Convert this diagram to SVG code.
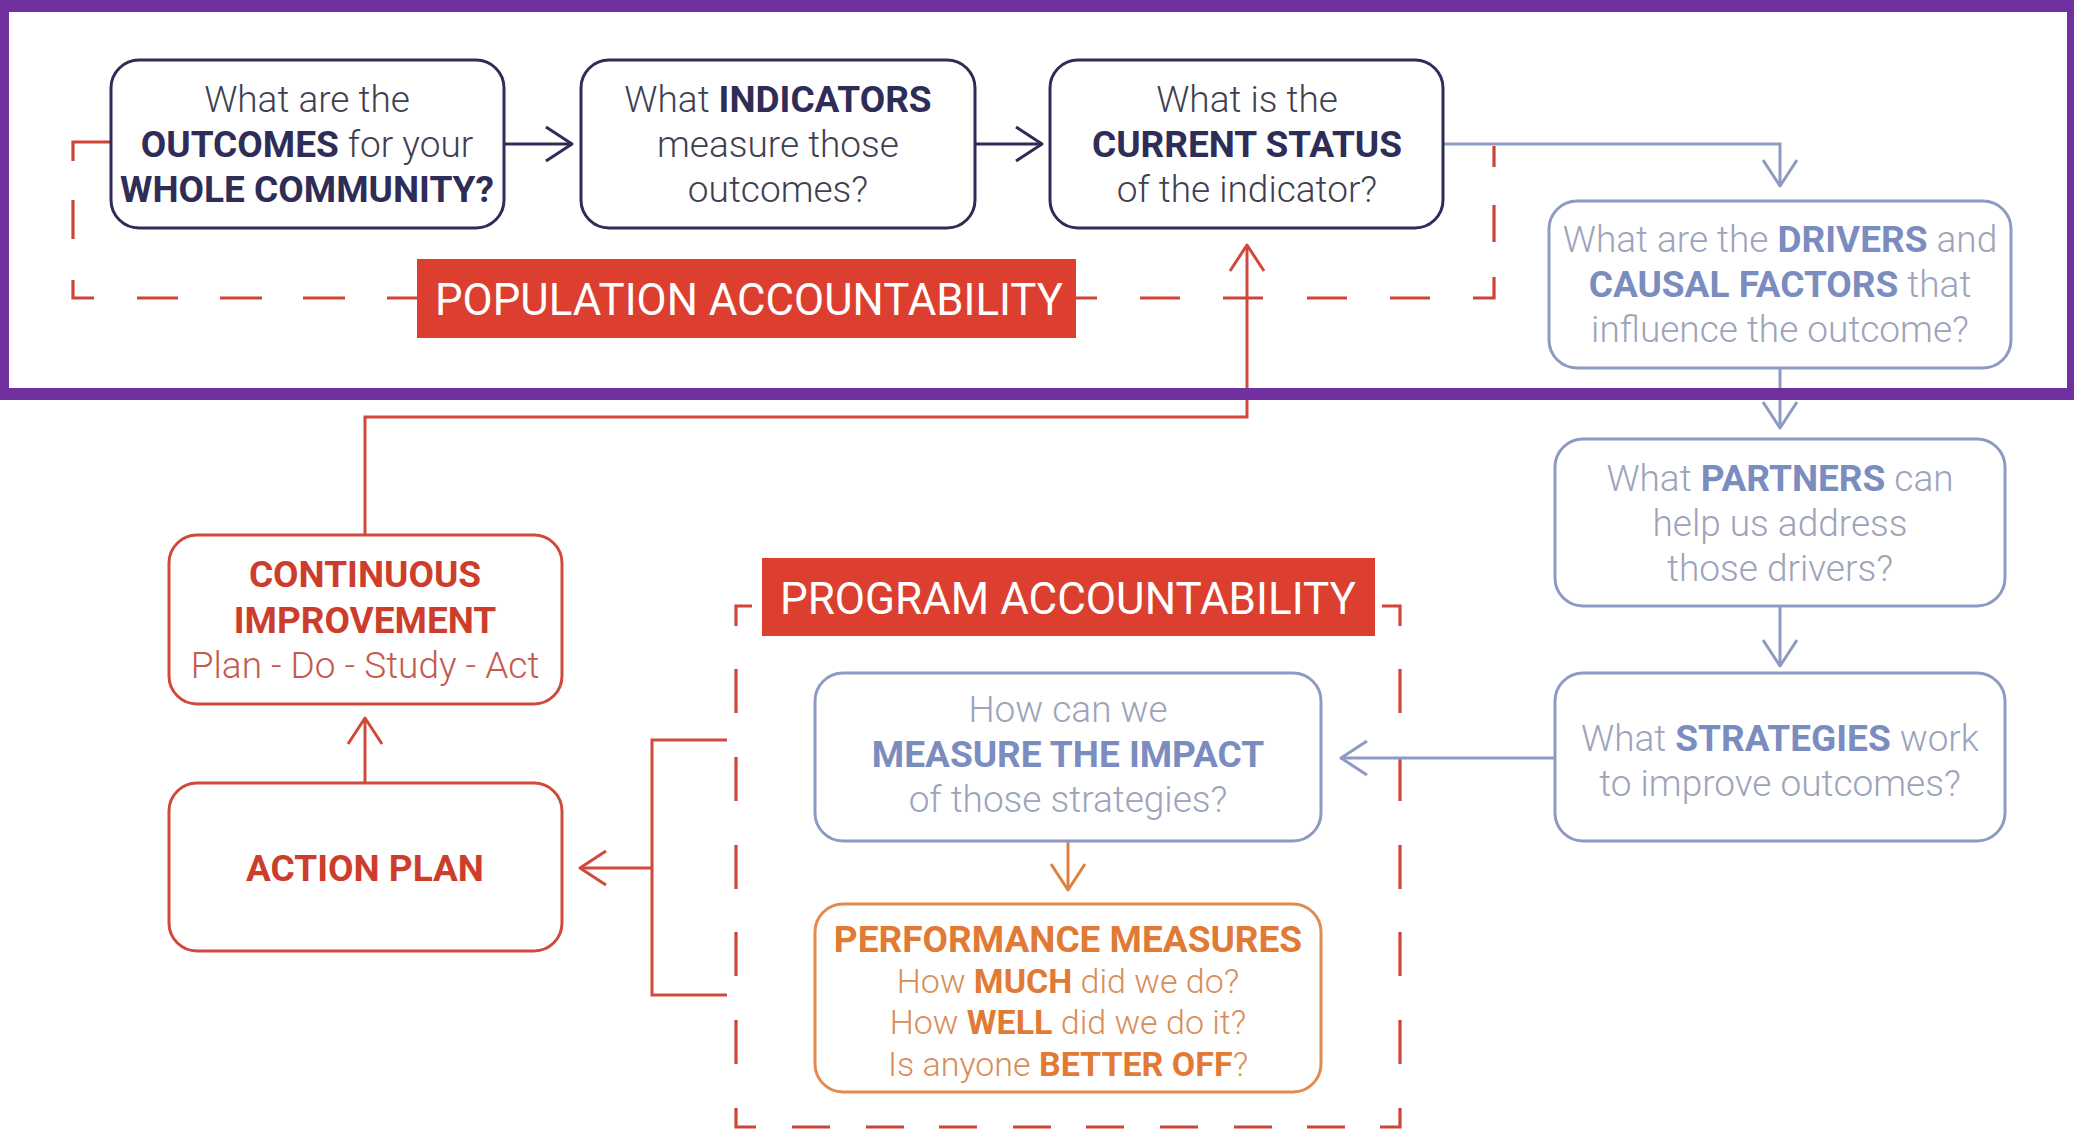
<svg xmlns="http://www.w3.org/2000/svg" width="2074" height="1139" viewBox="0 0 2074 1139">
<style>
.box{fill:#fff;stroke-width:3}
.t{font-family:Roboto,"Liberation Sans",sans-serif;font-size:37px;font-weight:300;text-anchor:middle}
.b{font-weight:700}
.navy .box{stroke:#2e2d57}.navy .t{fill:#3f3f52}.navy .b{fill:#2e2d57}
.blue .box{stroke:#8d9bc4}.blue .t{fill:#9ca3bb}.blue .b{fill:#7b8cbf}
.red .box{stroke:#d0493a}.red .t{fill:#c45a4e}.red .b{fill:#cd3d2c}
.orange .box{stroke:#e38a4c}.orange .t{fill:#d98d58}.orange .b{fill:#e07a34}
.c{fill:none;stroke-width:3;stroke-linejoin:miter}
.cn{stroke:#2e2d57}.cb{stroke:#8d9bc4}.cr{stroke:#d0493a}.co{stroke:#e08040}
.dash{fill:none;stroke:#cc4535;stroke-width:3.2}
.lab{fill:#dc3f2f}
.labt{font-family:Roboto,"Liberation Sans",sans-serif;font-size:45px;fill:#fff}
</style>
<defs>
<marker id="ah-navy" markerUnits="userSpaceOnUse" viewBox="-30 -20 32 40" markerWidth="32" markerHeight="40" refX="0" refY="0" orient="auto" overflow="visible"><path d="M-26,-17 L0,0 L-26,17" fill="none" stroke="#2e2d57" stroke-width="3" stroke-linejoin="round"/></marker>
<marker id="ah-blue" markerUnits="userSpaceOnUse" viewBox="-30 -20 32 40" markerWidth="32" markerHeight="40" refX="0" refY="0" orient="auto" overflow="visible"><path d="M-26,-17 L0,0 L-26,17" fill="none" stroke="#8d9bc4" stroke-width="3" stroke-linejoin="round"/></marker>
<marker id="ah-red" markerUnits="userSpaceOnUse" viewBox="-30 -20 32 40" markerWidth="32" markerHeight="40" refX="0" refY="0" orient="auto" overflow="visible"><path d="M-26,-17 L0,0 L-26,17" fill="none" stroke="#d0493a" stroke-width="3" stroke-linejoin="round"/></marker>
<marker id="ah-orange" markerUnits="userSpaceOnUse" viewBox="-30 -20 32 40" markerWidth="32" markerHeight="40" refX="0" refY="0" orient="auto" overflow="visible"><path d="M-26,-17 L0,0 L-26,17" fill="none" stroke="#e08040" stroke-width="3" stroke-linejoin="round"/></marker>
</defs>
<rect width="2074" height="1139" fill="#fff"/>

<g id="frames">
<path class="dash" d="M110,142 H73 V161 M73,200 V239 M73,280 V298 H94 M137,298 H178 M220,298 H262 M303,298 H345 M387,298 H417 M1076,298 H1097 M1140,298 H1180 M1223,298 H1263 M1307,298 H1347 M1390,298 H1430 M1473,298 H1494 V277 M1494,242 V205 M1494,167 V146"/>
<path class="dash" d="M752,606 H736 V626 M736,669 V713 M736,757 V801 M736,845 V889 M736,932 V976 M736,1020 V1064 M736,1108 V1127 H756 M792,1127 H830 M866,1127 H904 M939,1127 H977 M1013,1127 H1051 M1086,1127 H1124 M1160,1127 H1198 M1234,1127 H1272 M1307,1127 H1345 M1380,1127 H1400 V1108 M1400,1064 V1020 M1400,976 V932 M1400,889 V845 M1400,801 V757 M1400,713 V669 M1400,626 V606 H1382"/>
</g>

<g id="connectors">
<path class="c cn" d="M504,144 H572" marker-end="url(#ah-navy)"/>
<path class="c cn" d="M975,144 H1042" marker-end="url(#ah-navy)"/>
<path class="c cb" d="M1443,144 H1780 V186" marker-end="url(#ah-blue)"/>
<path class="c cb" d="M1780,368 V428" marker-end="url(#ah-blue)"/>
<path class="c cb" d="M1780,606 V666" marker-end="url(#ah-blue)"/>
<path class="c cb" d="M1555,758 H1341" marker-end="url(#ah-blue)"/>
<path class="c co" d="M1068,841 V890" marker-end="url(#ah-orange)"/>
<path class="c cr" d="M365,535 V417 H1247 V245" marker-end="url(#ah-red)"/>
<path class="c cr" d="M365,783 V718" marker-end="url(#ah-red)"/>
<path class="c cr" d="M727,740 H652 V995 H727"/>
<path class="c cr" d="M652,868 H580" marker-end="url(#ah-red)"/>
</g>

<g id="label-population">
<rect class="lab" x="417" y="259" width="659" height="79"/>
<text class="labt" x="435" y="315" textLength="628" lengthAdjust="spacingAndGlyphs">POPULATION ACCOUNTABILITY</text>
</g>
<g id="label-program">
<rect class="lab" x="762" y="558" width="613" height="78"/>
<text class="labt" x="780" y="614" textLength="576" lengthAdjust="spacingAndGlyphs">PROGRAM ACCOUNTABILITY</text>
</g>

<g id="node-outcomes" class="navy">
<rect class="box" x="111" y="60" width="393" height="168" rx="28"/>
<text class="t" x="307" y="112">What are the</text>
<text class="t" x="307" y="157"><tspan class="b">OUTCOMES</tspan> for your</text>
<text class="t b" x="307" y="202">WHOLE COMMUNITY?</text>
</g>
<g id="node-indicators" class="navy">
<rect class="box" x="581" y="60" width="394" height="168" rx="28"/>
<text class="t" x="778" y="112">What <tspan class="b">INDICATORS</tspan></text>
<text class="t" x="778" y="157">measure those</text>
<text class="t" x="778" y="202">outcomes?</text>
</g>
<g id="node-status" class="navy">
<rect class="box" x="1050" y="60" width="393" height="168" rx="28"/>
<text class="t" x="1247" y="112">What is the</text>
<text class="t b" x="1247" y="157">CURRENT STATUS</text>
<text class="t" x="1247" y="202">of the indicator?</text>
</g>
<g id="node-drivers" class="blue">
<rect class="box" x="1549" y="201" width="462" height="167" rx="28"/>
<text class="t" x="1780" y="252">What are the <tspan class="b">DRIVERS</tspan> and</text>
<text class="t" x="1780" y="297"><tspan class="b">CAUSAL FACTORS</tspan> that</text>
<text class="t" x="1780" y="342">influence the outcome?</text>
</g>
<g id="node-partners" class="blue">
<rect class="box" x="1555" y="439" width="450" height="167" rx="28"/>
<text class="t" x="1780" y="491">What <tspan class="b">PARTNERS</tspan> can</text>
<text class="t" x="1780" y="536">help us address</text>
<text class="t" x="1780" y="581">those drivers?</text>
</g>
<g id="node-strategies" class="blue">
<rect class="box" x="1555" y="673" width="450" height="168" rx="28"/>
<text class="t" x="1780" y="751">What <tspan class="b">STRATEGIES</tspan> work</text>
<text class="t" x="1780" y="796">to improve outcomes?</text>
</g>
<g id="node-measure" class="blue">
<rect class="box" x="815" y="673" width="506" height="168" rx="28"/>
<text class="t" x="1068" y="722">How can we</text>
<text class="t b" x="1068" y="767">MEASURE THE IMPACT</text>
<text class="t" x="1068" y="812">of those strategies?</text>
</g>
<g id="node-performance" class="orange">
<rect class="box" x="815" y="904" width="506" height="188" rx="28"/>
<text class="t b" x="1068" y="952">PERFORMANCE MEASURES</text>
<text class="t" x="1068" y="993" style="font-size:34px">How <tspan class="b">MUCH</tspan> did we do?</text>
<text class="t" x="1068" y="1034" style="font-size:34px">How <tspan class="b">WELL</tspan> did we do it?</text>
<text class="t" x="1068" y="1076" style="font-size:34px">Is anyone <tspan class="b">BETTER OFF</tspan>?</text>
</g>
<g id="node-continuous" class="red">
<rect class="box" x="169" y="535" width="393" height="169" rx="28"/>
<text class="t b" x="365" y="587">CONTINUOUS</text>
<text class="t b" x="365" y="633">IMPROVEMENT</text>
<text class="t" x="365" y="678">Plan - Do - Study - Act</text>
</g>
<g id="node-action" class="red">
<rect class="box" x="169" y="783" width="393" height="168" rx="28"/>
<text class="t b" x="365" y="881">ACTION PLAN</text>
</g>

<path id="purple-frame" fill="#7030a0" fill-rule="evenodd" d="M0,0 H2074 V400 H0 Z M9,12 V388 H2067 V12 Z"/>
</svg>
